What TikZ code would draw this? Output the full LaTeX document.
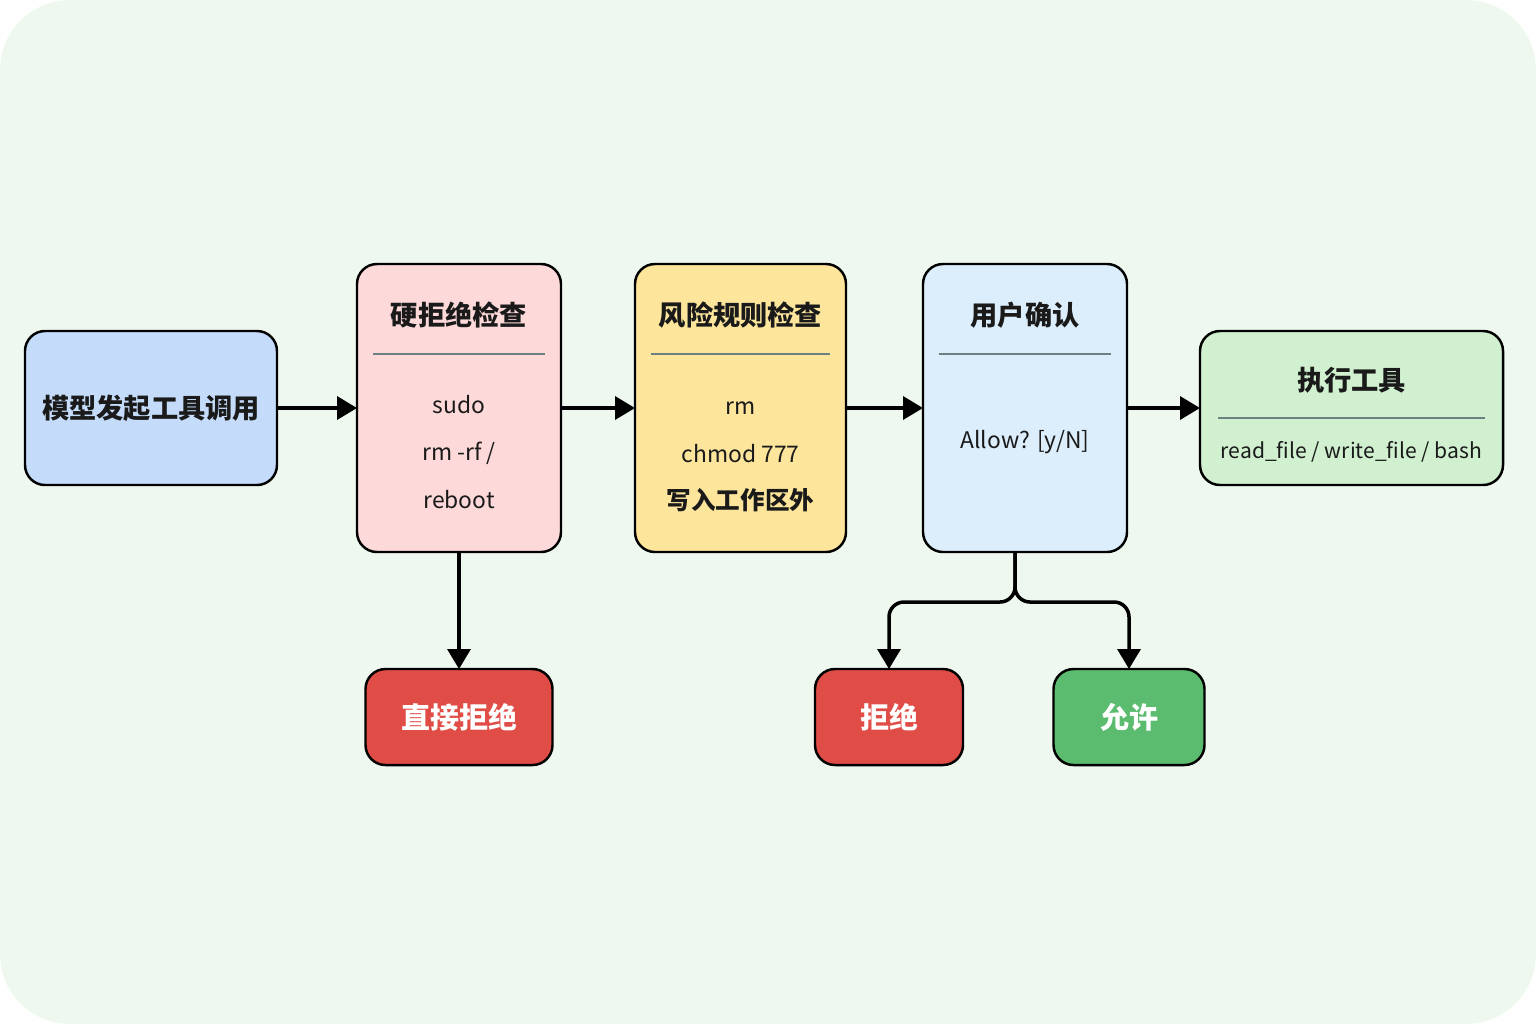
\documentclass[tikz,border=0pt]{standalone}
\usepackage{fontspec}
\setmainfont{Noto Sans CJK SC}
\usetikzlibrary{arrows.meta,positioning,calc}
\definecolor{bgmint}{HTML}{EEF8EF}
\definecolor{startblue}{HTML}{C4DCFA}
\definecolor{hardpink}{HTML}{FDD9D9}
\definecolor{riskyellow}{HTML}{FDE59C}
\definecolor{askblue}{HTML}{DCEEFC}
\definecolor{runlime}{HTML}{D0F0CF}
\definecolor{rejred}{HTML}{E04C46}
\definecolor{okgreen}{HTML}{5BBC6F}
\definecolor{inkdark}{HTML}{1A1A1A}

\begin{document}
\begin{tikzpicture}[>={Triangle[length=4mm,width=4.6mm]},text=inkdark,
  flowbox/.style={draw=black,line width=1.4pt,rounded corners=4mm,inner sep=0pt,outer sep=0pt},
  headtxt/.style={font=\fontsize{15.5}{18}\selectfont\bfseries},
  itemtxt/.style={font=\fontsize{13}{27.2}\selectfont,align=center},
  endbox/.style={flowbox,minimum height=19.2mm,text=white,font=\fontsize{16.5}{20}\selectfont\bfseries},
  sepline/.style={draw=gray!85!teal,line width=0.6pt},
  flow/.style={->,line width=2pt}]
% background card
\fill[bgmint,rounded corners=14mm] (0,0) rectangle (30.72,-20.48);
\useasboundingbox (0,0) rectangle (30.72,-20.48);
% main row
\node[flowbox,fill=startblue,minimum width=50.4mm,minimum height=30.8mm,headtxt] (start) at (3.02,-8.16) {模型发起工具调用};
\node[flowbox,fill=hardpink,minimum width=40.8mm,minimum height=57.6mm,right=16mm of start] (hard) {};
\node[flowbox,fill=riskyellow,minimum width=42.2mm,minimum height=57.6mm,right=14.8mm of hard] (risk) {};
\node[flowbox,fill=askblue,minimum width=40.8mm,minimum height=57.6mm,right=15.4mm of risk] (confirm) {};
\node[flowbox,fill=runlime,minimum width=60.6mm,minimum height=30.8mm,right=14.6mm of confirm] (exec) {};
% hard reject contents
\node[headtxt] (hardT) at ($(hard.north)+(0,-1.02)$) {硬拒绝检查};
\draw[sepline] ($(hard.north west)+(0.32,-1.8)$) -- ($(hard.north east)+(-0.32,-1.8)$);
\node[itemtxt] (hardL) at ($(hard.north)+(0,-3.76)$) {sudo\\rm -rf /\\reboot};
% risk rule contents
\node[headtxt] (riskT) at ($(risk.north)+(0,-1.02)$) {风险规则检查};
\draw[sepline] ($(risk.north west)+(0.32,-1.8)$) -- ($(risk.north east)+(-0.32,-1.8)$);
\node[itemtxt] (riskL) at ($(risk.north)+(0,-3.86)$) {rm\\chmod 777\\\fontsize{14}{27.2}\selectfont\textbf{写入工作区外}};
% user confirm contents
\node[headtxt] (confirmT) at ($(confirm.north)+(0,-1.02)$) {用户确认};
\draw[sepline] ($(confirm.north west)+(0.32,-1.8)$) -- ($(confirm.north east)+(-0.32,-1.8)$);
\node[itemtxt] (confirmL) at ($(confirm.north)+(0,-3.56)$) {Allow? [y/N]};
% execute contents
\node[headtxt] (execT) at ($(exec.north)+(0,-0.98)$) {执行工具};
\draw[sepline] ($(exec.north west)+(0.36,-1.74)$) -- ($(exec.north east)+(-0.36,-1.74)$);
\node[itemtxt,font=\fontsize{12}{14}\selectfont] (execL) at ($(exec.north)+(0,-2.42)$) {read\_file / write\_file / bash};
% outcomes
\node[endbox,fill=rejred,minimum width=37.4mm,below=23.4mm of hard] (direct) {直接拒绝};
\node[endbox,fill=rejred,minimum width=29.6mm,below=23.4mm of confirm,xshift=-27.2mm] (reject) {拒绝};
\node[endbox,fill=okgreen,minimum width=30.2mm,below=23.4mm of confirm,xshift=20.8mm] (allow) {允许};
% arrows
\draw[flow] (start) -- (hard);
\draw[flow] (hard) -- (risk);
\draw[flow] (risk) -- (confirm);
\draw[flow] (confirm) -- (exec);
\draw[flow] (hard) -- (direct);
\coordinate (split) at ($(confirm.south)+(-0.2,0)$);
\draw[flow,rounded corners=3mm] (split) -- ++(0,-1.0) -| (reject.north);
\draw[flow,rounded corners=3mm] (split) -- ++(0,-1.0) -| (allow.north);
\end{tikzpicture}
\end{document}
